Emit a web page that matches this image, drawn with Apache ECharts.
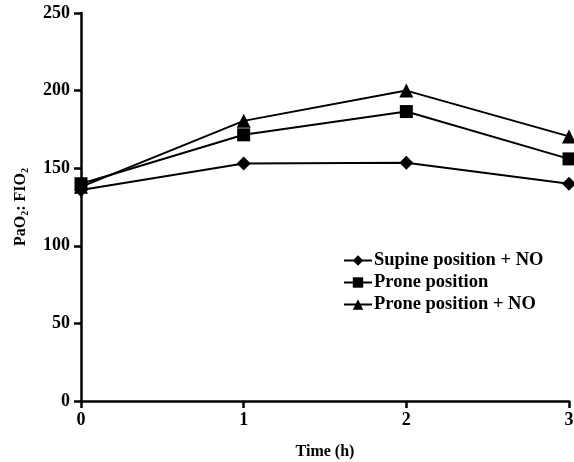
<!DOCTYPE html>
<html><head><meta charset="utf-8">
<script src="https://cdn.jsdelivr.net/npm/echarts@6/dist/echarts.min.js"></script>
<style>html,body{margin:0;padding:0;background:#fff}#c{width:574px;height:462px}</style>
</head><body><div id="c"></div>
<script>
var times = [0, 1, 2, 3];
var supineNO = [136, 153, 153.5, 140];
var prone = [140, 171.5, 186.5, 156];
var proneNO = [138, 180.5, 200, 170.5];
var seriesNames = ['Supine position + NO', 'Prone position', 'Prone position + NO'];
var yTicks = [0, 50, 100, 150, 200, 250];

var font = 'Liberation Serif';
function pairs(arr){ return times.map(function(t,i){ return [t, arr[i]]; }); }
function mk(name, data, symbol, size){
  return {name:name, type:'line', data:pairs(data), symbol:symbol, symbolSize:size,
    lineStyle:{color:'#000', width:2}, itemStyle:{color:'#000'}, showSymbol:true, animation:false};
}
var chart = echarts.init(document.getElementById('c'));
chart.setOption({
  animation:false,
  grid:{left:81, right:5, top:13, bottom:61, containLabel:false, outerBoundsMode:'none'},
  legend:{orient:'vertical', left:338, top:246, itemGap:3, itemWidth:28, itemHeight:13,
    textStyle:{fontFamily:font, fontWeight:'bold', fontSize:18.5, color:'#000', padding:[0,0,0,-3]},
    data:seriesNames},
  xAxis:{type:'value', min:0, max:3, interval:1, name:'Time (h)', nameLocation:'middle', nameGap:43,
    nameTextStyle:{fontFamily:font, fontWeight:'bold', fontSize:16, color:'#000'},
    axisLine:{lineStyle:{color:'#000', width:2.5}}, axisTick:{length:7, lineStyle:{color:'#000', width:2.5}},
    axisLabel:{fontFamily:font, fontWeight:'bold', fontSize:18, color:'#000', margin:10},
    splitLine:{show:false}},
  yAxis:{type:'value', min:yTicks[0], max:yTicks[yTicks.length-1], interval:50,
    name:'PaO{s|2}: FIO{s|2}', nameLocation:'middle', nameGap:51,
    nameTextStyle:{fontFamily:font, fontWeight:'bold', fontSize:16, color:'#000',
      rich:{s:{fontFamily:font, fontWeight:'bold', fontSize:10, color:'#000', verticalAlign:'bottom', padding:[8,0,0,0]}}},
    axisLine:{show:true, lineStyle:{color:'#000', width:2.5}}, axisTick:{show:true, length:7, lineStyle:{color:'#000', width:2.5}},
    axisLabel:{fontFamily:font, fontWeight:'bold', fontSize:18, color:'#000', margin:11},
    splitLine:{show:false}},
  series:[
    mk(seriesNames[0], supineNO, 'diamond', 14),
    mk(seriesNames[1], prone, 'rect', 13),
    mk(seriesNames[2], proneNO, 'triangle', 14)
  ]
});
</script></body></html>
